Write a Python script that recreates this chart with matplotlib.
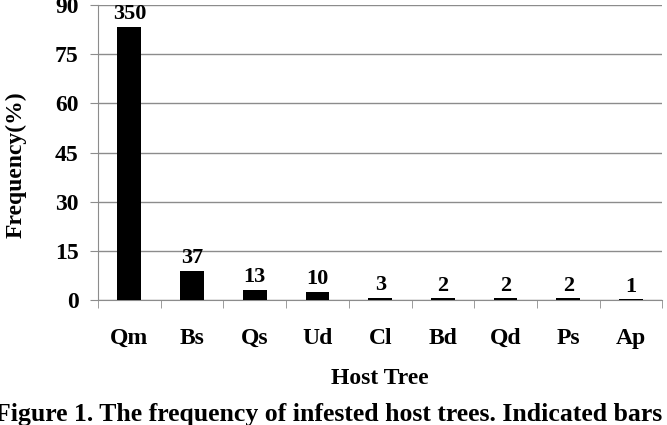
import numpy as np
import matplotlib
matplotlib.use('Agg')
import matplotlib.pyplot as plt

# host tree species and their share of infested trees
hosts = ['Qm', 'Bs', 'Qs', 'Ud', 'Cl', 'Bd', 'Qd', 'Ps', 'Ap']
freq = [83.3, 8.8, 3.1, 2.4, 0.7, 0.5, 0.5, 0.5, 0.2]
counts = ['350', '37', '13', '10', '3', '2', '2', '2', '1']
yticks = [0, 15, 30, 45, 60, 75, 90]

plt.rcParams['font.family'] = ['Liberation Serif', 'DejaVu Serif']
plt.rcParams['font.weight'] = 'bold'

fig = plt.figure(figsize=(6.67, 4.25), dpi=100)
ax = fig.add_axes([0.147, 0.294, 0.846, 0.694])

x = np.arange(len(hosts))
ax.bar(x, freq, width=0.38, color='black', zorder=3)

for xi, v, c in zip(x, freq, counts):
    ax.annotate(c, (xi, v), xytext=(0, 2), textcoords='offset points',
                ha='center', va='bottom', fontsize=16, fontweight='bold')

ax.set_xlim(-0.5, len(hosts) - 0.5)
ax.set_ylim(0, 90)
ax.set_yticks(yticks)
ax.yaxis.grid(True, color='#8c8c8c', linewidth=1, zorder=0)

ax.set_xticks(x)
ax.set_xticklabels(hosts, fontsize=17, fontweight='bold')
ax.set_xticks(np.arange(len(hosts) + 1) - 0.5, minor=True)
ax.tick_params(axis='x', which='major', length=0, pad=20)
ax.tick_params(axis='x', which='minor', length=6, color='#8c8c8c', direction='out')
ax.tick_params(axis='y', length=6, color='#8c8c8c', pad=8, labelsize=17)
for lab in ax.get_yticklabels():
    lab.set_fontweight('bold')

for side in ['top', 'right']:
    ax.spines[side].set_visible(False)
ax.spines['left'].set_color('#8c8c8c')
ax.spines['bottom'].set_color('#8c8c8c')

ax.set_ylabel('Frequency(%)', fontsize=17, fontweight='bold')
ax.yaxis.set_label_coords(-0.126, 0.46)
ax.set_xlabel('Host Tree', fontsize=17, fontweight='bold', labelpad=14)

fig.text(-0.008, 0.024, 'Figure 1. The frequency of infested host trees. Indicated bars',
         fontsize=18.5, fontweight='bold', ha='left', va='center')

fig.savefig('out.png', dpi=100)
